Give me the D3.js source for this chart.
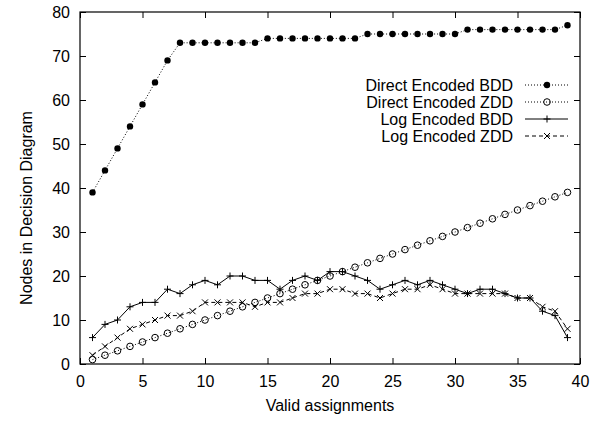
<!DOCTYPE html>
<html>
<head>
<meta charset="utf-8">
<script src="https://cdn.jsdelivr.net/npm/d3@7"></script>
<style>
  body { margin: 0; background: #fff; }
  svg text { font-family: "Liberation Sans", Arial, sans-serif; fill: #000; }
</style>
</head>
<body>
<svg id="chart"></svg>
<script>
// data
var assignments = d3.range(1, 40);
var directBDD = [39, 44, 49, 54, 59, 64, 69, 73, 73, 73, 73, 73, 73, 73, 74, 74, 74, 74, 74, 74,
                 74, 74, 75, 75, 75, 75, 75, 75, 75, 75, 76, 76, 76, 76, 76, 76, 76, 76, 77];
var directZDD = [1, 2, 3, 4, 5, 6, 7, 8, 9, 10, 11, 12, 13, 14, 15, 16, 17, 18, 19, 20,
                 21, 22, 23, 24, 25, 26, 27, 28, 29, 30, 31, 32, 33, 34, 35, 36, 37, 38, 39];
var logBDD = [6, 9, 10, 13, 14, 14, 17, 16, 18, 19, 18, 20, 20, 19, 19, 17, 19, 20, 19, 21,
              21, 20, 19, 17, 18, 19, 18, 19, 18, 17, 16, 17, 17, 16, 15, 15, 12, 11, 6];
var logZDD = [2, 4, 6, 8, 9, 10, 11, 11, 12, 14, 14, 14, 14, 13, 14, 14, 15, 16, 16, 17,
              17, 16, 16, 15, 16, 17, 17, 18, 17, 16, 16, 16, 16, 16, 15, 15, 13, 12, 8];
var xTicks = [0, 5, 10, 15, 20, 25, 30, 35, 40];
var yTicks = [0, 10, 20, 30, 40, 50, 60, 70, 80];

var series = [
    {name: "Direct Encoded BDD", values: directBDD, dash: "1,2", marker: "dot"},
    {name: "Direct Encoded ZDD", values: directZDD, dash: "1,2", marker: "ring"},
    {name: "Log Encoded BDD", values: logBDD, dash: null, marker: "plus"},
    {name: "Log Encoded ZDD", values: logZDD, dash: "4,3", marker: "cross"}
];

var W = 599, H = 421;
var margin = {top: 12, right: 19, bottom: 57, left: 80};
var width = W - margin.left - margin.right,
    height = H - margin.top - margin.bottom;

var svg = d3.select("#chart").attr("width", W).attr("height", H);
var g = svg.append("g")
    .attr("transform", "translate(" + margin.left + "," + margin.top + ")");

var x = d3.scaleLinear().domain([0, 40]).range([0, width]);
var y = d3.scaleLinear().domain([0, 80]).range([height, 0]);

// axes with inward ticks, mirrored on top and right
function styleAxis(sel) {
    sel.select(".domain").remove();
    sel.selectAll("line").attr("stroke", "#000");
    sel.selectAll("text").style("font-size", "16px");
}
g.append("g")
    .attr("transform", "translate(0," + height + ")")
    .call(d3.axisBottom(x).tickValues(xTicks).tickSizeInner(-6).tickSizeOuter(0).tickPadding(12))
    .call(styleAxis);
g.append("g")
    .call(d3.axisTop(x).tickValues(xTicks).tickSizeInner(-6).tickSizeOuter(0).tickFormat(""))
    .call(styleAxis);
g.append("g")
    .call(d3.axisLeft(y).tickValues(yTicks).tickSizeInner(-6).tickSizeOuter(0).tickPadding(10))
    .call(styleAxis);
g.append("g")
    .attr("transform", "translate(" + width + ",0)")
    .call(d3.axisRight(y).tickValues(yTicks).tickSizeInner(-6).tickSizeOuter(0).tickFormat(""))
    .call(styleAxis);

g.append("rect")
    .attr("width", width).attr("height", height)
    .attr("fill", "none").attr("stroke", "#000").attr("stroke-width", 1.2);

// axis titles
g.append("text")
    .attr("x", width / 2).attr("y", height + 47)
    .attr("text-anchor", "middle").style("font-size", "16px")
    .text("Valid assignments");
g.append("text")
    .attr("transform", "translate(-48," + (height / 2 + 20) + ") rotate(-90)")
    .attr("text-anchor", "middle").style("font-size", "16px")
    .text("Nodes in Decision Diagram");

function drawMarker(sel, type) {
    if (type === "dot") {
        sel.append("circle").attr("r", 3.2).attr("fill", "#000");
    } else if (type === "ring") {
        sel.append("circle").attr("r", 3.3).attr("fill", "none")
            .attr("stroke", "#000").attr("stroke-width", 1);
    } else if (type === "plus") {
        sel.append("path").attr("d", "M-3.5,0H3.5M0,-3.5V3.5")
            .attr("stroke", "#000").attr("stroke-width", 1);
    } else {
        sel.append("path").attr("d", "M-3,-3L3,3M-3,3L3,-3")
            .attr("stroke", "#000").attr("stroke-width", 1);
    }
}

var line = d3.line()
    .x(function (d, i) { return x(assignments[i]); })
    .y(function (d) { return y(d); });

series.forEach(function (s) {
    g.append("path")
        .datum(s.values)
        .attr("fill", "none")
        .attr("stroke", "#000")
        .attr("stroke-width", 1)
        .attr("stroke-dasharray", s.dash)
        .attr("d", line);
    g.selectAll(null)
        .data(s.values)
        .enter().append("g")
        .attr("transform", function (d, i) {
            return "translate(" + x(assignments[i]) + "," + y(d) + ")";
        })
        .each(function () { drawMarker(d3.select(this), s.marker); });
});

// legend
var legend = g.append("g").attr("transform", "translate(" + (513 - margin.left) + "," + (85 - margin.top) + ")");
series.forEach(function (s, i) {
    var row = legend.append("g").attr("transform", "translate(0," + (i * 17) + ")");
    row.append("text")
        .attr("x", 0).attr("y", 6)
        .attr("text-anchor", "end").style("font-size", "16px")
        .text(s.name);
    row.append("line")
        .attr("x1", 12).attr("x2", 55)
        .attr("stroke", "#000").attr("stroke-width", 1)
        .attr("stroke-dasharray", s.dash);
    drawMarker(row.append("g").attr("transform", "translate(34,0)"), s.marker);
});
</script>
</body>
</html>
